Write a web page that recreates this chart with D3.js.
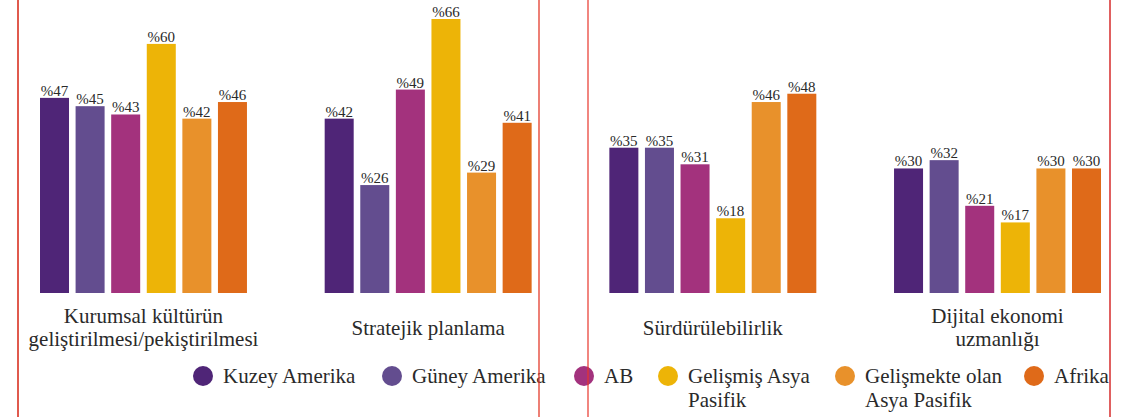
<!DOCTYPE html>
<html lang="tr">
<head>
<meta charset="UTF-8">
<script src="https://d3js.org/d3.v7.min.js"></script>
<title>chart</title>
<style>
  body { margin: 0; background: #fff; }
</style>
</head>
<body>
<script>
    // kategoriler ve seriler
    const categories = [
        ["Kurumsal kültürün", "geliştirilmesi/pekiştirilmesi"],
        ["Stratejik planlama"],
        ["Sürdürülebilirlik"],
        ["Dijital ekonomi", "uzmanlığı"]
    ];
    const regions = ["Kuzey Amerika", "Güney Amerika", "AB", "Gelişmiş Asya Pasifik", "Gelişmekte olan Asya Pasifik", "Afrika"];
    const regionLines = [["Kuzey Amerika"], ["Güney Amerika"], ["AB"], ["Gelişmiş Asya", "Pasifik"], ["Gelişmekte olan", "Asya Pasifik"], ["Afrika"]];
    const colors = ["#4f2577", "#634d8f", "#a3327d", "#edb407", "#e8912b", "#df6a19"];

    const kuzeyAmerika = [47, 42, 35, 30];
    const guneyAmerika = [45, 26, 35, 32];
    const ab = [43, 49, 31, 21];
    const gelismisAsya = [60, 66, 18, 17];
    const gelismekteAsya = [42, 29, 46, 30];
    const afrika = [46, 41, 48, 30];
    const series = [kuzeyAmerika, guneyAmerika, ab, gelismisAsya, gelismekteAsya, afrika];

    const FONT = "'Liberation Serif', 'DejaVu Serif', serif";
    const width = 1138, height = 417;
    const svg = d3.select("body").append("svg")
        .attr("width", width).attr("height", height)
        .attr("font-family", FONT);

    const x0 = d3.scaleBand().domain(d3.range(categories.length))
        .range([40, 1101]).paddingInner(0.273).paddingOuter(0);
    const x1 = d3.scaleBand().domain(d3.range(regions.length))
        .range([0, x0.bandwidth()]).paddingInner(0.185).paddingOuter(0);
    const y = d3.scaleLinear().domain([0, 66]).range([293, 19]);

    const groups = svg.selectAll("g.grp")
        .data(categories)
        .enter().append("g")
        .attr("class", "grp")
        .attr("transform", (d, i) => "translate(" + x0(i) + ",0)");

    groups.each(function(cat, ci) {
        const g = d3.select(this);
        const vals = series.map(s => s[ci]);
        g.selectAll("rect").data(vals).enter().append("rect")
            .attr("x", (d, i) => x1(i))
            .attr("y", d => y(d))
            .attr("width", x1.bandwidth())
            .attr("height", d => y(0) - y(d))
            .attr("fill", (d, i) => colors[i]);
        g.selectAll("text.val").data(vals).enter().append("text")
            .attr("class", "val")
            .attr("x", (d, i) => x1(i) + x1.bandwidth() / 2)
            .attr("y", d => y(d) - 2)
            .attr("text-anchor", "middle")
            .attr("font-family", FONT)
            .attr("font-size", "15px")
            .attr("fill", "#2a2a2a")
            .text(d => "%" + d);
        // kategori etiketi
        const baseY = cat.length > 1 ? 323 : 335;
        g.selectAll("text.cat").data(cat).enter().append("text")
            .attr("class", "cat")
            .attr("x", x0.bandwidth() / 2)
            .attr("y", (d, i) => baseY + i * 23)
            .attr("text-anchor", "middle")
            .attr("font-family", FONT)
            .attr("font-size", "21px")
            .attr("fill", "#2a2a2a")
            .text(d => d);
    });

    // lejant
    const legendX = [203, 392, 584, 668, 845, 1034];
    const leg = svg.selectAll("g.leg").data(regions).enter().append("g")
        .attr("class", "leg")
        .attr("transform", (d, i) => "translate(" + legendX[i] + ",376)");
    leg.append("circle").attr("r", 10).attr("fill", (d, i) => colors[i]);
    leg.each(function(d, i) {
        d3.select(this).selectAll("text").data(regionLines[i]).enter().append("text")
            .attr("x", 20)
            .attr("y", (t, j) => 7 + j * 24)
            .attr("font-family", FONT)
            .attr("font-size", "21px")
            .attr("fill", "#2a2a2a")
            .text(t => t);
    });

    // kırmızı dikey çizgiler
    const redLines = [[18, 2, "#e05a4e"], [539, 1.3, "#e33b2b"], [588, 1.2, "#e8352a"], [1110, 2, "#e06060"]];
    svg.selectAll("line.red").data(redLines).enter().append("line")
        .attr("x1", d => d[0]).attr("x2", d => d[0])
        .attr("y1", 0).attr("y2", height)
        .attr("stroke", d => d[2])
        .attr("stroke-width", d => d[1]);
</script>
</body>
</html>
